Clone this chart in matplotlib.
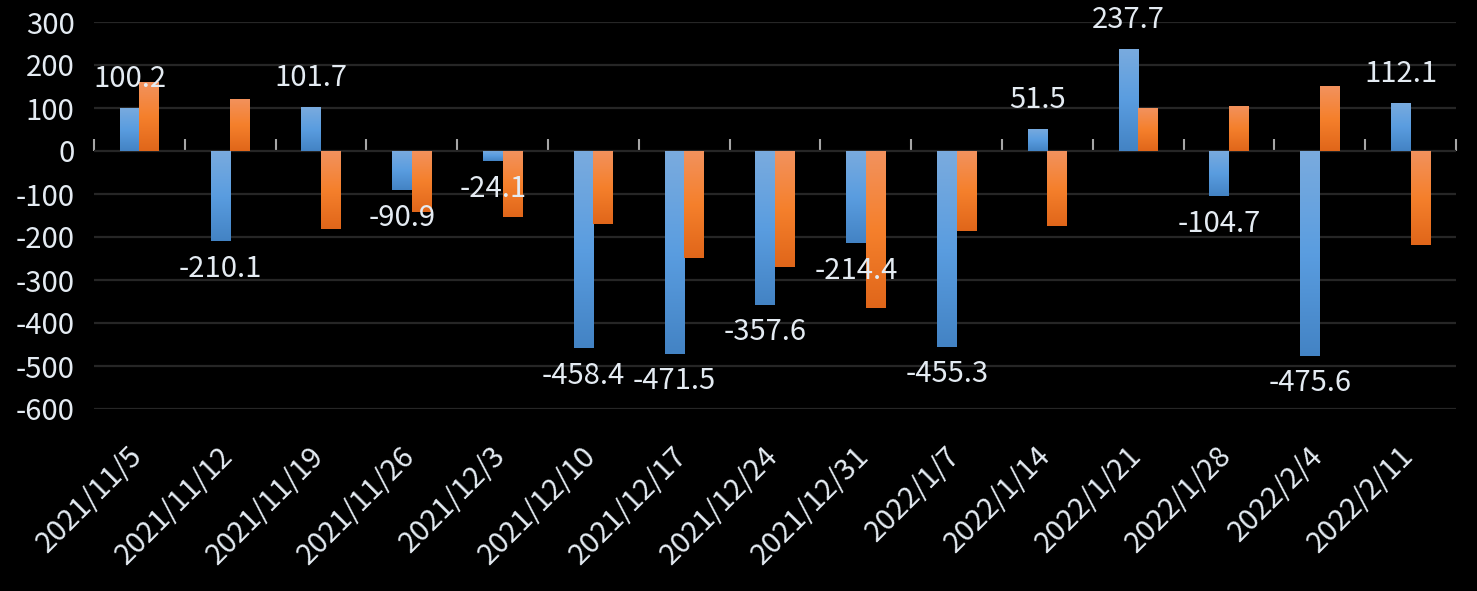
import matplotlib
matplotlib.use("Agg")
import matplotlib.pyplot as plt
import matplotlib.transforms as mtransforms
import numpy as np
from matplotlib.colors import LinearSegmentedColormap

# weekly values
dates = ["2021/11/5", "2021/11/12", "2021/11/19", "2021/11/26", "2021/12/3",
         "2021/12/10", "2021/12/17", "2021/12/24", "2021/12/31", "2022/1/7",
         "2022/1/14", "2022/1/21", "2022/1/28", "2022/2/4", "2022/2/11"]
blue_vals = [100.2, -210.1, 101.7, -90.9, -24.1, -458.4, -471.5, -357.6,
             -214.4, -455.3, 51.5, 237.7, -104.7, -475.6, 112.1]
orange_vals = [160, 121, -181, -143, -153, -170, -250, -269, -364, -185,
               -174, 100, 105, 151, -219]
yticks = [300, 200, 100, 0, -100, -200, -300, -400, -500, -600]

plt.rcParams['font.family'] = ['Noto Sans CJK TC', 'DejaVu Sans']
plt.rcParams['axes.unicode_minus'] = False
txt_col = '#e4ebf2'
fs = 21

fig = plt.figure(figsize=(14.77, 5.91), dpi=100, facecolor='black')
ax = fig.add_axes([94/1477, 1 - 409/591, (1456-94)/1477, (409-22)/591])
ax.set_facecolor('black')

ymin, ymax = -600, 300
x = np.arange(len(dates))
w = 0.215

blue_cmap = LinearSegmentedColormap.from_list('b', ['#7aabde', '#5a9de0', '#4383c4'])
orange_cmap = LinearSegmentedColormap.from_list('o', ['#f2925e', '#f5802c', '#e0661a'])
grad = np.linspace(0, 1, 256).reshape(-1, 1)

def gradient_bars(bars, cmap):
    for b in bars:
        x0, y0 = b.get_x(), b.get_y()
        bw, bh = b.get_width(), b.get_height()
        top, bot = max(y0, y0 + bh), min(y0, y0 + bh)
        im = ax.imshow(grad, cmap=cmap, aspect='auto', extent=[x0, x0 + bw, bot, top],
                       origin='upper', zorder=2)
        im.set_clip_path(b)

b1 = ax.bar(x - w/2, blue_vals, w, color='none', zorder=2)
b2 = ax.bar(x + w/2, orange_vals, w, color='none', zorder=2)
gradient_bars(b1, blue_cmap)
gradient_bars(b2, orange_cmap)
ax.set_xlim(-0.5, len(dates) - 0.5)
ax.set_ylim(ymin, ymax)

# value labels on the blue series
for xi, v in zip(x, blue_vals):
    if v >= 0:
        ax.annotate(f"{v:.1f}", (xi - w/2, v), xytext=(0, 15), textcoords='offset points',
                    ha='center', va='baseline', color=txt_col, fontsize=fs, zorder=4)
    else:
        ax.annotate(f"{v:.1f}", (xi - w/2, v), xytext=(0, -9), textcoords='offset points',
                    ha='center', va='top', color=txt_col, fontsize=fs, zorder=4)

# grid
ax.set_yticks(yticks)
ax.yaxis.grid(True, color='#262626', linewidth=1.6, zorder=0)
ax.set_axisbelow(True)
ax.tick_params(axis='y', length=0, pad=14, labelcolor=txt_col, labelsize=fs)
for s in ax.spines.values():
    s.set_visible(False)

# category labels at bottom
ax.set_xticks(x)
ax.set_xticklabels(dates, rotation=45, ha='right', rotation_mode='anchor')
ax.tick_params(axis='x', length=0, pad=23, labelcolor=txt_col, labelsize=fs)
shift = mtransforms.ScaledTranslation(-12/100, 0, fig.dpi_scale_trans)
for lbl in ax.get_xticklabels():
    lbl.set_transform(lbl.get_transform() + shift)

# horizontal axis through zero with boundary ticks
sec = ax.secondary_xaxis((0 - ymin) / (ymax - ymin))
sec.set_xticks(np.arange(len(dates) + 1) - 0.5)
sec.set_xticklabels([])
sec.tick_params(axis='x', direction='out', length=8.5, width=1.5, color='#a6a6a6')
sec.spines['bottom'].set_color('#a6a6a6')
sec.spines['bottom'].set_linewidth(1.6)

fig.savefig('out.png', dpi=100, facecolor='black')
